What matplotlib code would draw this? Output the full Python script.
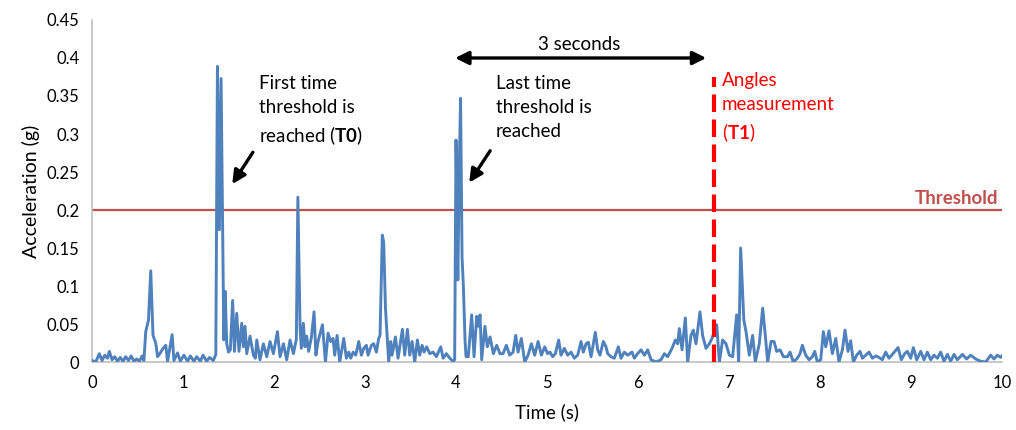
import numpy as np
import matplotlib
matplotlib.use("Agg")
import matplotlib.pyplot as plt

plt.rcParams['font.family'] = ['Lato', 'DejaVu Sans']
plt.rcParams['mathtext.fontset'] = 'custom'
plt.rcParams['mathtext.rm'] = 'Lato'
plt.rcParams['mathtext.bf'] = 'Lato:bold'

# acceleration trace (time in s, acceleration in g)
time_s = [
    0.0, 0.04, 0.08, 0.11, 0.14, 0.17, 0.19, 0.22, 0.25, 0.28,
    0.31, 0.34, 0.37, 0.40, 0.43, 0.46, 0.49, 0.52, 0.55, 0.57,
    0.59, 0.62, 0.645, 0.67, 0.70, 0.72, 0.75, 0.78, 0.81, 0.83,
    0.88, 0.90, 0.94, 0.97, 1.01, 1.05, 1.08, 1.12, 1.15, 1.19,
    1.22, 1.26, 1.29, 1.333, 1.36, 1.378, 1.399, 1.418, 1.436, 1.448,
    1.463, 1.48, 1.50, 1.52, 1.545, 1.565, 1.59, 1.615, 1.645, 1.663,
    1.681, 1.70, 1.736, 1.773, 1.795, 1.81, 1.846, 1.883, 1.92, 1.956,
    1.993, 2.037, 2.066, 2.103, 2.139, 2.176, 2.213, 2.245, 2.262, 2.286,
    2.30, 2.322, 2.34, 2.359, 2.38, 2.41, 2.44, 2.46, 2.484, 2.532,
    2.565, 2.594, 2.623, 2.649, 2.667, 2.693, 2.722, 2.766, 2.795, 2.821,
    2.843, 2.869, 2.898, 2.931, 2.96, 2.986, 3.015, 3.033, 3.07, 3.096,
    3.125, 3.15, 3.165, 3.19, 3.205, 3.225, 3.26, 3.282, 3.297, 3.334,
    3.363, 3.411, 3.436, 3.466, 3.491, 3.517, 3.546, 3.575, 3.601, 3.627,
    3.649, 3.678, 3.711, 3.748, 3.784, 3.832, 3.858, 3.894, 3.931, 3.967,
    3.985, 4.0, 4.02, 4.035, 4.05, 4.066, 4.081, 4.099, 4.11, 4.135,
    4.172, 4.198, 4.227, 4.245, 4.264, 4.282, 4.318, 4.344, 4.374, 4.41,
    4.447, 4.483, 4.517, 4.553, 4.59, 4.627, 4.656, 4.682, 4.718, 4.755,
    4.792, 4.828, 4.865, 4.902, 4.938, 4.975, 5.007, 5.033, 5.062, 5.092,
    5.128, 5.154, 5.19, 5.227, 5.264, 5.30, 5.337, 5.374, 5.399, 5.429,
    5.454, 5.484, 5.531, 5.557, 5.582, 5.619, 5.648, 5.667, 5.703, 5.74,
    5.784, 5.813, 5.85, 5.886, 5.934, 5.96, 5.996, 6.033, 6.07, 6.106,
    6.143, 6.198, 6.253, 6.29, 6.326, 6.374, 6.41, 6.436, 6.454, 6.484,
    6.52, 6.546, 6.582, 6.608, 6.637, 6.681, 6.71, 6.747, 6.784, 6.813,
    6.865, 6.894, 6.93, 6.967, 7.004, 7.04, 7.084, 7.106, 7.128, 7.163,
    7.187, 7.223, 7.26, 7.289, 7.333, 7.37, 7.399, 7.425, 7.462, 7.495,
    7.524, 7.561, 7.598, 7.642, 7.671, 7.707, 7.751, 7.781, 7.806, 7.843,
    7.88, 7.916, 7.942, 7.971, 8.008, 8.037, 8.063, 8.099, 8.136, 8.173,
    8.209, 8.246, 8.275, 8.308, 8.337, 8.367, 8.403, 8.44, 8.466, 8.502,
    8.539, 8.576, 8.612, 8.649, 8.685, 8.722, 8.759, 8.795, 8.858, 8.894,
    8.931, 8.96, 8.997, 9.026, 9.063, 9.107, 9.143, 9.18, 9.217, 9.253,
    9.29, 9.326, 9.363, 9.40, 9.436, 9.473, 9.51, 9.565, 9.612, 9.656,
    9.711, 9.766, 9.821, 9.876, 9.912, 9.949, 9.986, 10.0,
]
accel_g = [
    0.002, 0.0, 0.011, 0.002, 0.009, 0.005, 0.014, 0.003, 0.007, 0.001,
    0.006, 0.001, 0.007, 0.002, 0.008, 0.001, 0.004, 0.001, 0.008, 0.002,
    0.040, 0.055, 0.120, 0.035, 0.025, 0.007, 0.012, 0.018, 0.022, 0.001,
    0.036, 0.002, 0.012, 0.001, 0.009, 0.001, 0.008, 0.001, 0.007, 0.001,
    0.009, 0.001, 0.006, 0.002, 0.010, 0.389, 0.174, 0.373, 0.170, 0.029,
    0.093, 0.024, 0.013, 0.016, 0.081, 0.014, 0.064, 0.014, 0.051, 0.020,
    0.047, 0.011, 0.034, 0.009, 0.005, 0.029, 0.003, 0.024, 0.007, 0.027,
    0.011, 0.040, 0.007, 0.024, 0.003, 0.029, 0.011, 0.030, 0.217, 0.046,
    0.018, 0.051, 0.020, 0.034, 0.014, 0.032, 0.066, 0.009, 0.027, 0.049,
    0.0, 0.038, 0.027, 0.031, 0.009, 0.035, 0.0, 0.031, 0.005, 0.013,
    0.005, 0.013, 0.009, 0.027, 0.009, 0.018, 0.022, 0.009, 0.022, 0.024,
    0.013, 0.031, 0.035, 0.167, 0.158, 0.070, 0.0, 0.027, 0.009, 0.033,
    0.005, 0.043, 0.009, 0.043, 0.009, 0.027, 0.0, 0.029, 0.009, 0.022,
    0.013, 0.020, 0.011, 0.013, 0.007, 0.020, 0.005, 0.011, 0.005, 0.001,
    0.003, 0.292, 0.108, 0.250, 0.347, 0.139, 0.099, 0.029, 0.007, 0.007,
    0.062, 0.007, 0.060, 0.047, 0.062, 0.003, 0.047, 0.020, 0.033, 0.011,
    0.022, 0.011, 0.011, 0.022, 0.009, 0.013, 0.035, 0.013, 0.031, 0.0,
    0.009, 0.024, 0.009, 0.027, 0.009, 0.020, 0.011, 0.013, 0.007, 0.011,
    0.029, 0.009, 0.018, 0.009, 0.013, 0.005, 0.009, 0.027, 0.013, 0.024,
    0.026, 0.007, 0.039, 0.016, 0.009, 0.027, 0.020, 0.011, 0.007, 0.005,
    0.020, 0.005, 0.013, 0.009, 0.013, 0.005, 0.011, 0.016, 0.009, 0.016,
    0.003, 0.0, 0.003, 0.011, 0.007, 0.018, 0.029, 0.024, 0.044, 0.016,
    0.058, 0.0, 0.035, 0.042, 0.024, 0.066, 0.035, 0.018, 0.024, 0.031,
    0.049, 0.0, 0.029, 0.024, 0.009, 0.007, 0.062, 0.0, 0.150, 0.055,
    0.040, 0.009, 0.035, 0.0, 0.024, 0.071, 0.035, 0.0, 0.027, 0.027,
    0.014, 0.016, 0.007, 0.007, 0.013, 0.0, 0.005, 0.011, 0.022, 0.009,
    0.003, 0.007, 0.014, 0.0, 0.003, 0.040, 0.020, 0.041, 0.011, 0.031,
    0.0, 0.016, 0.042, 0.014, 0.028, 0.0, 0.009, 0.014, 0.005, 0.009,
    0.013, 0.005, 0.008, 0.006, 0.003, 0.013, 0.005, 0.010, 0.019, 0.003,
    0.011, 0.014, 0.005, 0.019, 0.003, 0.014, 0.003, 0.013, 0.003, 0.009,
    0.005, 0.013, 0.001, 0.010, 0.001, 0.010, 0.003, 0.010, 0.004, 0.009,
    0.004, 0.001, 0.0, 0.009, 0.004, 0.009, 0.006, 0.008,
]

threshold = 0.2
t1_time = 6.83
x_ticks = [0, 1, 2, 3, 4, 5, 6, 7, 8, 9, 10]
y_ticks = [0, 0.05, 0.1, 0.15, 0.2, 0.25, 0.3, 0.35, 0.4, 0.45]
y_tick_labels = ["0", "0.05", "0.1", "0.15", "0.2", "0.25", "0.3", "0.35", "0.4", "0.45"]

fig = plt.figure(figsize=(10.16, 4.30), dpi=100)
ax = fig.add_axes([0.0906, 0.1581, 0.8956, 0.7954])

ax.plot(time_s, accel_g, color='#4F81BD', lw=2.1, solid_joinstyle='round', zorder=3)
ax.axhline(threshold, color='#C0504D', lw=1.6, zorder=2)
ax.plot([t1_time, t1_time], [0, 0.375], color='#FF0000', lw=3, dashes=(4.2, 1.8), zorder=4)

ax.set_xlim(0, 10)
ax.set_ylim(0, 0.45)
ax.set_xticks(x_ticks)
ax.set_yticks(y_ticks)
ax.set_yticklabels(y_tick_labels)
ax.tick_params(length=0, labelsize=12, colors='#000000', pad=9)
for s in ['top', 'right']:
    ax.spines[s].set_visible(False)
for s in ['left', 'bottom']:
    ax.spines[s].set_color('#BFBFBF')
    ax.spines[s].set_linewidth(1.2)

ax.set_xlabel('Time (s)', fontsize=13.5, labelpad=9)
ax.set_ylabel('Acceleration (g)', fontsize=14, labelpad=5)

# annotations
arrow_style = dict(arrowstyle='-|>', color='black', lw=2.4, mutation_scale=20)

ax.text(1.83, 0.378, "First time\nthreshold is\nreached ($\\mathbf{T0}$)", fontsize=13.5,
        va='top', ha='left', linespacing=1.5)
ax.annotate('', xy=(1.524, 0.231), xytext=(1.784, 0.279), arrowprops=arrow_style)

ax.text(4.44, 0.378, "Last time\nthreshold is\nreached", fontsize=13.5,
        va='top', ha='left', linespacing=1.5)
ax.annotate('', xy=(4.128, 0.233), xytext=(4.392, 0.281), arrowprops=arrow_style)

ax.annotate('', xy=(3.99, 0.4), xytext=(6.75, 0.4),
            arrowprops=dict(arrowstyle='<|-|>', color='black', lw=2.4, mutation_scale=20,
                            shrinkA=0, shrinkB=0))
ax.text(5.35, 0.406, "3 seconds", fontsize=13.5, ha='center', va='bottom')

ax.text(6.92, 0.382, "Angles\nmeasurement\n($\\mathbf{T1}$)", fontsize=13.5, color='#FF0000',
        va='top', ha='left', linespacing=1.5)

ax.text(9.96, 0.204, "Threshold", fontsize=13.5, color='#C0504D', fontweight='bold',
        ha='right', va='bottom')

fig.savefig('out.png', dpi=100)
